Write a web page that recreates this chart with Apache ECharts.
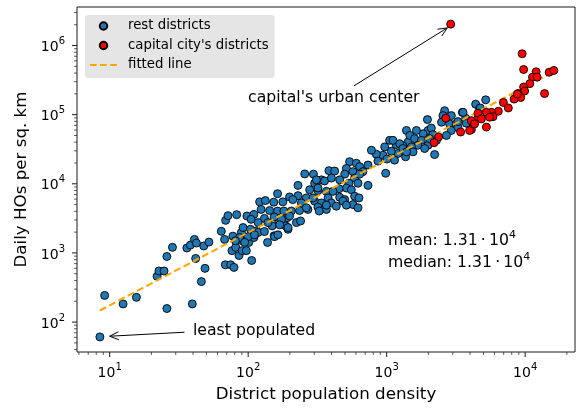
<!DOCTYPE html>
<html><head><meta charset="utf-8">
<script src="https://cdn.jsdelivr.net/npm/echarts@6/dist/echarts.min.js"></script>
<style>html,body{margin:0;padding:0;background:#fff}#c{width:578px;height:408px}</style>
</head><body><div id="c"></div><script>
const restDensity = [8.5, 9.2, 12.5, 15.6, 25.9, 39.5, 22, 22.7, 24.7, 25.9, 28.4, 36.1, 38.3, 40.9, 42.3, 41.8, 47.8, 52.1, 48.8, 45.9, 64, 68.8, 71.5, 82.6, 67.6, 68.4, 74.8, 79, 77.6, 76.4, 81.3, 85.9, 89.3, 90.8, 90.5,
106, 101, 110, 115, 121, 133, 138, 149, 154, 163, 167, 178, 187, 191, 194, 181, 98,
256, 296, 383, 338, 302, 356, 229, 278, 319, 367, 163, 229, 263, 199, 153, 210, 242, 302, 338, 319, 367, 270, 235, 205, 143, 124, 110, 105, 131, 154, 174, 199, 223, 194, 239, 169, 139, 118, 91.8, 104, 118, 131, 86.8, 99.8, 111, 155, 164, 80.9, 94.4, 97,
1390, 1430, 1310, 1170, 1050, 1210, 1080, 968, 940, 842, 776, 865, 1005, 1140, 1370, 733, 984, 540, 604, 638, 512, 571, 674, 421, 498, 587, 638, 733, 621, 534, 458, 512, 453, 556, 587, 458, 498, 571, 631, 621, 311, 399, 319, 410, 378, 399, 294, 367, 433, 484, 512, 263, 326,
1970, 2620, 2700, 2550, 2490, 2930, 2850, 3180, 3520, 3720, 4390, 4690, 2290, 1990, 2100, 2930, 3270, 2700, 2160, 1830, 1640, 1470, 1590, 1780, 1990, 1680, 2040, 2220, 1240, 1310, 1510, 1550, 1880, 1390, 1110, 5190, 3560, 3760, 4740, 3270];
const restHOs = [61, 243, 183, 228, 157, 183, 460, 548, 548, 889, 1205, 1180, 1300, 1570, 1390, 832, 1260, 1435, 598, 385, 2060, 2960, 3460, 3580, 1570, 674, 674, 618, 1750, 1080, 1205, 918, 1980, 1500, 1080,
778, 1420, 1670, 2090, 5480, 5720, 1420, 2460, 1770, 4040, 2840, 5480, 2460, 3240, 2200, 4040, 3420,
13900, 13800, 15500, 11400, 10200, 11000, 9490, 8200, 7940, 7780, 7190, 6740, 6250, 6460, 5420, 5910, 5290, 5610, 5290, 4600, 4260, 4260, 4110, 4040, 4110, 4260, 3610, 3060, 3160, 3310, 3060, 3420, 2750, 2330, 2900, 2550, 2750, 2750, 2330, 2200, 1980, 2040, 1670, 1720, 1830, 1720, 1830, 1500, 1420, 1080,
59100, 40400, 35400, 36900, 42500, 27500, 29600, 34200, 25900, 26800, 30600, 21300, 22800, 22000, 24600, 18700, 14200, 20900, 19800, 17700, 16700, 15000, 15000, 15300, 13800, 12100, 13800, 9490, 10200, 10200, 11400, 8680, 8490, 8200, 6610, 6390, 5910, 5010, 6250, 4500, 11400, 12100, 8700, 7780, 6250, 5290, 6250, 4910, 4750, 5610, 4910, 4500, 4040,
84900, 114000, 91800, 96900, 77800, 96900, 73600, 73600, 108000, 89000, 142000, 123000, 42500, 59100, 64000, 59100, 66100, 50100, 51300, 53000, 59100, 50100, 45000, 42500, 36100, 36100, 45000, 26500, 38100, 32400, 34200, 29000, 32400, 29000, 42500, 164000, 108000, 75300, 125000, 79400];
const capitalDensity = [2900, 4560, 4090, 4090, 2670, 3420, 2370, 2200, 9510, 9750, 12000, 11300, 12200, 14900, 16100, 10800, 9750, 9910, 8870, 9290, 13800, 8320, 6960, 7560, 6400, 5700, 5860, 5250, 4570, 4830, 5250, 3970, 4310, 5540, 8770];
const capitalHOs = [2040000, 89000, 82000, 61100, 89000, 56100, 47600, 39400, 760000, 450000, 417000, 349000, 349000, 411000, 436000, 281000, 251000, 220000, 202000, 177000, 202000, 168000, 150000, 125000, 112000, 108000, 93600, 108000, 105000, 86900, 66100, 59100, 73600, 91800, 198000];
const fitDensity = [8.5, 15400];
const fitHOs = [147, 398000];
const xMajorTicks = [10, 100, 1000, 10000];
const yMajorTicks = [100, 1000, 10000, 100000, 1000000];
// annotation arrows: [fromX, fromY] -> [toX, toY] in data units
const arrowFrom = [[34.7, 71.3], [582, 262000]];
const arrowTo = [[10, 62.4], [2740, 1800000]];

const FONT = 'DejaVu Sans';
const X_MIN = 5.81, X_MAX = 22900, Y_MIN = 36.9, Y_MAX = 3.61e6;

function minorTicks(lo, hi) {
  const out = [];
  for (let k = -1; k <= 7; k++) for (let m = 2; m <= 9; m++) {
    const v = m * Math.pow(10, k);
    if (v > lo && v < hi) out.push(v);
  }
  return out;
}
const tickData = [];
xMajorTicks.forEach(v => tickData.push([v, Y_MIN, 0, 1]));
minorTicks(X_MIN, X_MAX).forEach(v => tickData.push([v, Y_MIN, 0, 0]));
yMajorTicks.forEach(v => tickData.push([X_MIN, v, 1, 1]));
minorTicks(Y_MIN, Y_MAX).forEach(v => tickData.push([X_MIN, v, 1, 0]));

function powLabel(v) {
  const e = Math.log10(v), r = Math.round(e);
  if (Math.abs(e - r) > 1e-6) return '';
  return '{b|10}{s|' + r + '}';
}
const rich = {
  b: {fontSize: 14, fontFamily: FONT, color: '#000', lineHeight: 18, verticalAlign: 'bottom'},
  s: {fontSize: 10, fontFamily: FONT, color: '#000', lineHeight: 10, verticalAlign: 'top'}
};
// dashed-line legend glyph (27 x 7.5 box, three dashes through the middle)
const DASH_ICON = 'path://M0,0L0,0M27,7.5L27,7.5M0,2.75h6.7v2h-6.7zM10,2.75h6.7v2h-6.7zM20.3,2.75h6.7v2h-6.7z';

const chart = echarts.init(document.getElementById('c'), null, {renderer: 'canvas'});
chart.setOption({
  animation: false,
  backgroundColor: '#fff',
  grid: {left: 77, right: 2, top: 7, bottom: 52, show: true, borderColor: '#1a1a1a', borderWidth: 1, backgroundColor: 'transparent'},
  xAxis: {
    type: 'log', logBase: 10, min: X_MIN, max: X_MAX,
    axisLine: {show: false}, axisTick: {show: false}, splitLine: {show: false}, minorTick: {show: false},
    axisLabel: {formatter: powLabel, rich: rich, margin: 10},
    name: 'District population density', nameLocation: 'middle', nameGap: 34,
    nameTextStyle: {fontFamily: FONT, fontSize: 16.7, color: '#000'}
  },
  yAxis: {
    type: 'log', logBase: 10, min: Y_MIN, max: Y_MAX,
    axisLine: {show: false}, axisTick: {show: false}, splitLine: {show: false}, minorTick: {show: false},
    axisLabel: {formatter: powLabel, rich: rich, margin: 12},
    name: 'Daily HOs per sq. km', nameLocation: 'middle', nameGap: 41,
    nameTextStyle: {fontFamily: FONT, fontSize: 16.7, color: '#000'}
  },
  legend: {
    orient: 'vertical', left: 85, top: 15, padding: [3, 6, 5, 5], itemGap: 3.5,
    itemWidth: 27, itemHeight: 7.5, backgroundColor: '#e5e5e5', borderRadius: 3,
    textStyle: {fontFamily: FONT, fontSize: 13.3, color: '#000', lineHeight: 16, padding: [0, 0, 0, 6]},
    data: [
      {name: 'rest districts', icon: 'circle'},
      {name: "capital city's districts", icon: 'circle'},
      {name: 'fitted line', icon: DASH_ICON, itemStyle: {color: '#ffa500', borderWidth: 0}}
    ]
  },
  graphic: [
    {type: 'text', silent: true, style: {x: 248, y: 98, text: "capital's urban center", fontFamily: FONT, fontSize: 15.7, fill: '#000', verticalAlign: 'middle'}},
    {type: 'text', silent: true, style: {x: 193, y: 331, text: 'least populated', fontFamily: FONT, fontSize: 15.7, fill: '#000', verticalAlign: 'middle'}},
    {type: 'text', silent: true, style: {x: 388, y: 239, text: '{t|mean: 1.31\u2009\u00b7\u200910}{s|4}', verticalAlign: 'middle',
      rich: {t: {fontFamily: FONT, fontSize: 15.7, color: '#000', lineHeight: 19, verticalAlign: 'bottom'}, s: {fontFamily: FONT, fontSize: 11, color: '#000', lineHeight: 11, verticalAlign: 'top'}}}},
    {type: 'text', silent: true, style: {x: 388, y: 261, text: '{t|median: 1.31\u2009\u00b7\u200910}{s|4}', verticalAlign: 'middle',
      rich: {t: {fontFamily: FONT, fontSize: 15.7, color: '#000', lineHeight: 19, verticalAlign: 'bottom'}, s: {fontFamily: FONT, fontSize: 11, color: '#000', lineHeight: 11, verticalAlign: 'top'}}}}
  ],
  series: [
    {
      type: 'custom', name: 'ticks', silent: true, clip: false, z: 5,
      data: tickData,
      renderItem: function (params, api) {
        const p = api.coord([api.value(0), api.value(1)]);
        const major = api.value(3) === 1;
        const len = major ? 5 : 3;
        const shape = api.value(2) === 0
          ? {x1: p[0], y1: p[1], x2: p[0], y2: p[1] + len}
          : {x1: p[0] - len, y1: p[1], x2: p[0], y2: p[1]};
        return {type: 'line', shape: shape, style: {stroke: '#1a1a1a', lineWidth: major ? 1 : 0.7}};
      }
    },
    {
      type: 'scatter', name: 'rest districts', symbol: 'circle', symbolSize: 8, z: 2,
      itemStyle: {color: '#1f77b4', borderColor: '#000', borderWidth: 0.9, opacity: 1},
      data: restDensity.map((d, i) => [d, restHOs[i]])
    },
    {
      type: 'line', name: 'fitted line', symbol: 'none', showSymbol: false, z: 3,
      lineStyle: {color: '#ffa500', width: 2, type: [7, 3.5]},
      itemStyle: {color: '#ffa500'},
      data: fitDensity.map((d, i) => [d, fitHOs[i]])
    },
    {
      type: 'scatter', name: "capital city's districts", symbol: 'circle', symbolSize: 8, z: 4,
      itemStyle: {color: '#ff0000', borderColor: '#000', borderWidth: 0.9, opacity: 1},
      data: capitalDensity.map((d, i) => [d, capitalHOs[i]])
    },
    {
      type: 'custom', name: 'arrows', silent: true, clip: false, z: 6,
      data: arrowFrom.map((f, i) => [f[0], f[1], arrowTo[i][0], arrowTo[i][1]]),
      renderItem: function (params, api) {
        const a = api.coord([api.value(0), api.value(1)]);
        const b = api.coord([api.value(2), api.value(3)]);
        const ang = Math.atan2(b[1] - a[1], b[0] - a[0]);
        const hl = 9, hw = 4;
        const bx = b[0] - hl * Math.cos(ang), by = b[1] - hl * Math.sin(ang);
        const nx = -Math.sin(ang) * hw, ny = Math.cos(ang) * hw;
        return {type: 'group', children: [
          {type: 'line', shape: {x1: a[0], y1: a[1], x2: b[0], y2: b[1]}, style: {stroke: '#000', lineWidth: 1}},
          {type: 'polyline', shape: {points: [[bx + nx, by + ny], [b[0], b[1]], [bx - nx, by - ny]]}, style: {stroke: '#000', lineWidth: 1, fill: null}}
        ]};
      }
    }
  ]
});
</script></body></html>
